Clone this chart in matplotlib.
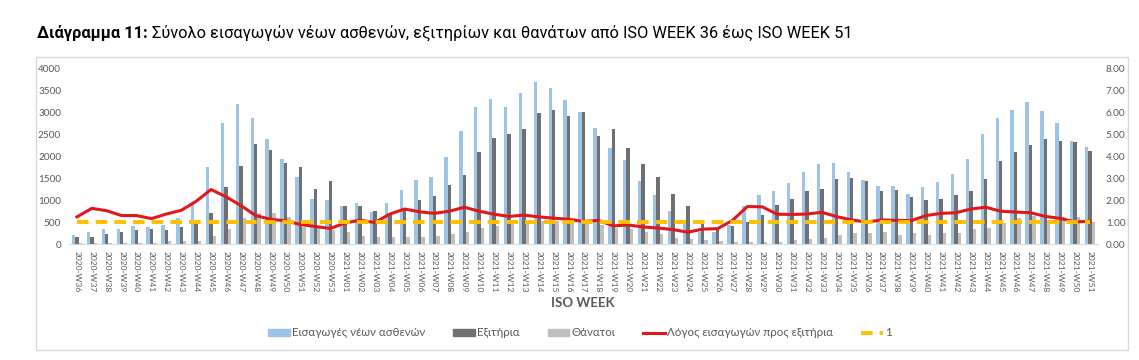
import numpy as np
import matplotlib
matplotlib.use("Agg")
import matplotlib.pyplot as plt
from matplotlib.patches import Rectangle, Patch
from matplotlib.lines import Line2D

plt.rcParams['font.family'] = ['Lato', 'Noto Sans', 'DejaVu Sans']

# ISO weeks 2020-W36 .. 2021-W51
weeks = [f"2020-W{w:02d}" for w in range(36, 54)] + [f"2021-W{w:02d}" for w in range(1, 52)]

admissions = [206, 267, 350, 343, 404, 381, 427, 594, 914, 1768, 2758, 3193, 2872, 2408, 1943, 1531, 1029, 1006,
              876, 937, 731, 937, 1234, 1455, 1531, 1996, 2575, 3131, 3307, 3131, 3459, 3695,
              3558, 3291, 3017, 2644, 2194, 1912, 1440, 1112, 754, 457, 274, 274, 442, 870, 1120,
              1219, 1387, 1638, 1836, 1852, 1646, 1455, 1334, 1334, 1135, 1303, 1425, 1593, 1936, 2522,
              2873, 3056, 3254, 3033, 2758, 2347, 2210]
discharges = [168, 160, 236, 267, 312, 335, 312, 396, 488, 716, 1295, 1790, 2278, 2149, 1851, 1752, 1250, 1440,
              876, 868, 754, 680, 770, 998, 1097, 1349, 1570, 2095, 2430, 2507, 2621, 2994,
              3063, 2933, 3017, 2476, 2629, 2194, 1836, 1524, 1150, 861, 488, 396, 419, 510, 663,
              892, 1029, 1212, 1265, 1486, 1509, 1448, 1219, 1234, 1067, 1006, 1021, 1113, 1212, 1494,
              1897, 2096, 2271, 2408, 2347, 2324, 2134]
deaths = [20, 20, 30, 30, 25, 30, 69, 69, 69, 183, 350, 594, 701, 701, 610, 396, 358, 320,
          267, 190, 168, 168, 170, 168, 183, 221, 274, 366, 411, 449, 495, 533,
          533, 533, 472, 440, 358, 350, 267, 221, 137, 114, 91, 69, 46, 53, 45,
          40, 90, 115, 145, 205, 245, 260, 265, 205, 245, 205, 245, 260, 335, 365,
          490, 590, 630, 560, 615, 610, 510]
ratio = [1.24, 1.63, 1.52, 1.30, 1.30, 1.16, 1.37, 1.54, 1.95, 2.49, 2.16, 1.76, 1.30, 1.13, 1.06, 0.89, 0.80, 0.71,
         0.96, 1.09, 0.98, 1.37, 1.60, 1.47, 1.40, 1.50, 1.68, 1.50, 1.36, 1.26, 1.32, 1.24,
         1.18, 1.13, 1.03, 1.08, 0.83, 0.87, 0.78, 0.73, 0.66, 0.54, 0.68, 0.70, 1.08, 1.71, 1.70,
         1.36, 1.35, 1.37, 1.45, 1.25, 1.10, 1.00, 1.10, 1.08, 1.07, 1.30, 1.40, 1.43, 1.60, 1.68,
         1.50, 1.46, 1.43, 1.26, 1.17, 1.01, 1.04]
REF_LEVEL = 1

C_ADM = "#9DC3E6"
C_DIS = "#707070"
C_DEA = "#BFBFBF"
C_RAT = "#E3171B"
C_REF = "#FFC000"
TXT = "#595959"

W, H = 1139, 360
fig = plt.figure(figsize=(W / 100, H / 100), dpi=100)

# chart frame
fig.patches.append(Rectangle((36 / W, 1 - 350 / H), (1128 - 36) / W, (350 - 57) / H,
                             transform=fig.transFigure, fill=False, ec="#D9D9D9", lw=1))

ax = fig.add_axes([69.5 / W, 1 - 244 / H, (1097.5 - 69.5) / W, (244 - 69) / H])
x = np.arange(len(weeks))
bw = 0.23
ax.bar(x - bw, admissions, bw, color=C_ADM, zorder=2)
ax.bar(x, discharges, bw, color=C_DIS, zorder=2)
ax.bar(x + bw, deaths, bw, color=C_DEA, zorder=2)
ax.set_xlim(-0.5, len(weeks) - 0.5)
ax.set_ylim(0, 4000)
ax.set_yticks(np.arange(0, 4001, 500))
ax.set_xticks(x)
ax.set_xticklabels(weeks, rotation=270, fontsize=6.1, color=TXT)
ax.tick_params(axis='both', length=0, colors=TXT)
ax.tick_params(axis='y', labelsize=7.2, pad=6)
ax.tick_params(axis='x', pad=5)
for s in ["top", "left", "right"]:
    ax.spines[s].set_visible(False)
ax.spines["bottom"].set_color("#D9D9D9")

ax2 = ax.twinx()
ax2.plot(x, ratio, color=C_RAT, lw=2.2, zorder=3)
ax2.plot(x, [REF_LEVEL] * len(x), color=C_REF, lw=2.8, dashes=(3, 1.8), zorder=4)
ax2.set_ylim(0, 8)
ax2.set_yticks(np.arange(0, 8.01, 1))
ax2.set_yticklabels([f"{v:.2f}" for v in np.arange(0, 8.01, 1)])
ax2.tick_params(axis='y', length=0, labelsize=7.2, colors=TXT, pad=6)
for s in ["top", "left", "right", "bottom"]:
    ax2.spines[s].set_visible(False)

fig.text(583 / W, 1 - 303 / H, "ISO WEEK", ha="center", va="center",
         fontsize=9.5, fontweight="bold", color=TXT)

handles = [Patch(color=C_ADM), Patch(color=C_DIS), Patch(color=C_DEA),
           Line2D([], [], color=C_RAT, lw=2.2), Line2D([], [], color=C_REF, lw=2.8, dashes=(3, 1.8))]
labels = ["Εισαγωγές νέων ασθενών", "Εξιτήρια", "Θάνατοι", "Λόγος εισαγωγών προς εξιτήρια", "1"]
fig.legend(handles, labels, loc="center", bbox_to_anchor=(580 / W, 1 - 333 / H), ncol=5,
           frameon=False, fontsize=8.3, labelcolor=TXT, handlelength=1.9, handleheight=0.6,
           handletextpad=0.2, columnspacing=2.4)

# title: bold lead then regular text
t1 = fig.text(37 / W, 1 - 33 / H, "Διάγραμμα 11:", fontsize=11.8, fontweight="bold",
              family=["Roboto", "DejaVu Sans"], va="center", color="#000000")
fig.canvas.draw()
bb = t1.get_window_extent()
fig.text((bb.x1 + 4) / W, 1 - 33 / H,
         "Σύνολο εισαγωγών νέων ασθενών, εξιτηρίων και θανάτων από ISO WEEK 36 έως ISO WEEK 51",
         fontsize=11.8, family=["Roboto", "DejaVu Sans"], va="center", color="#000000")

fig.savefig("out.png", dpi=100)
